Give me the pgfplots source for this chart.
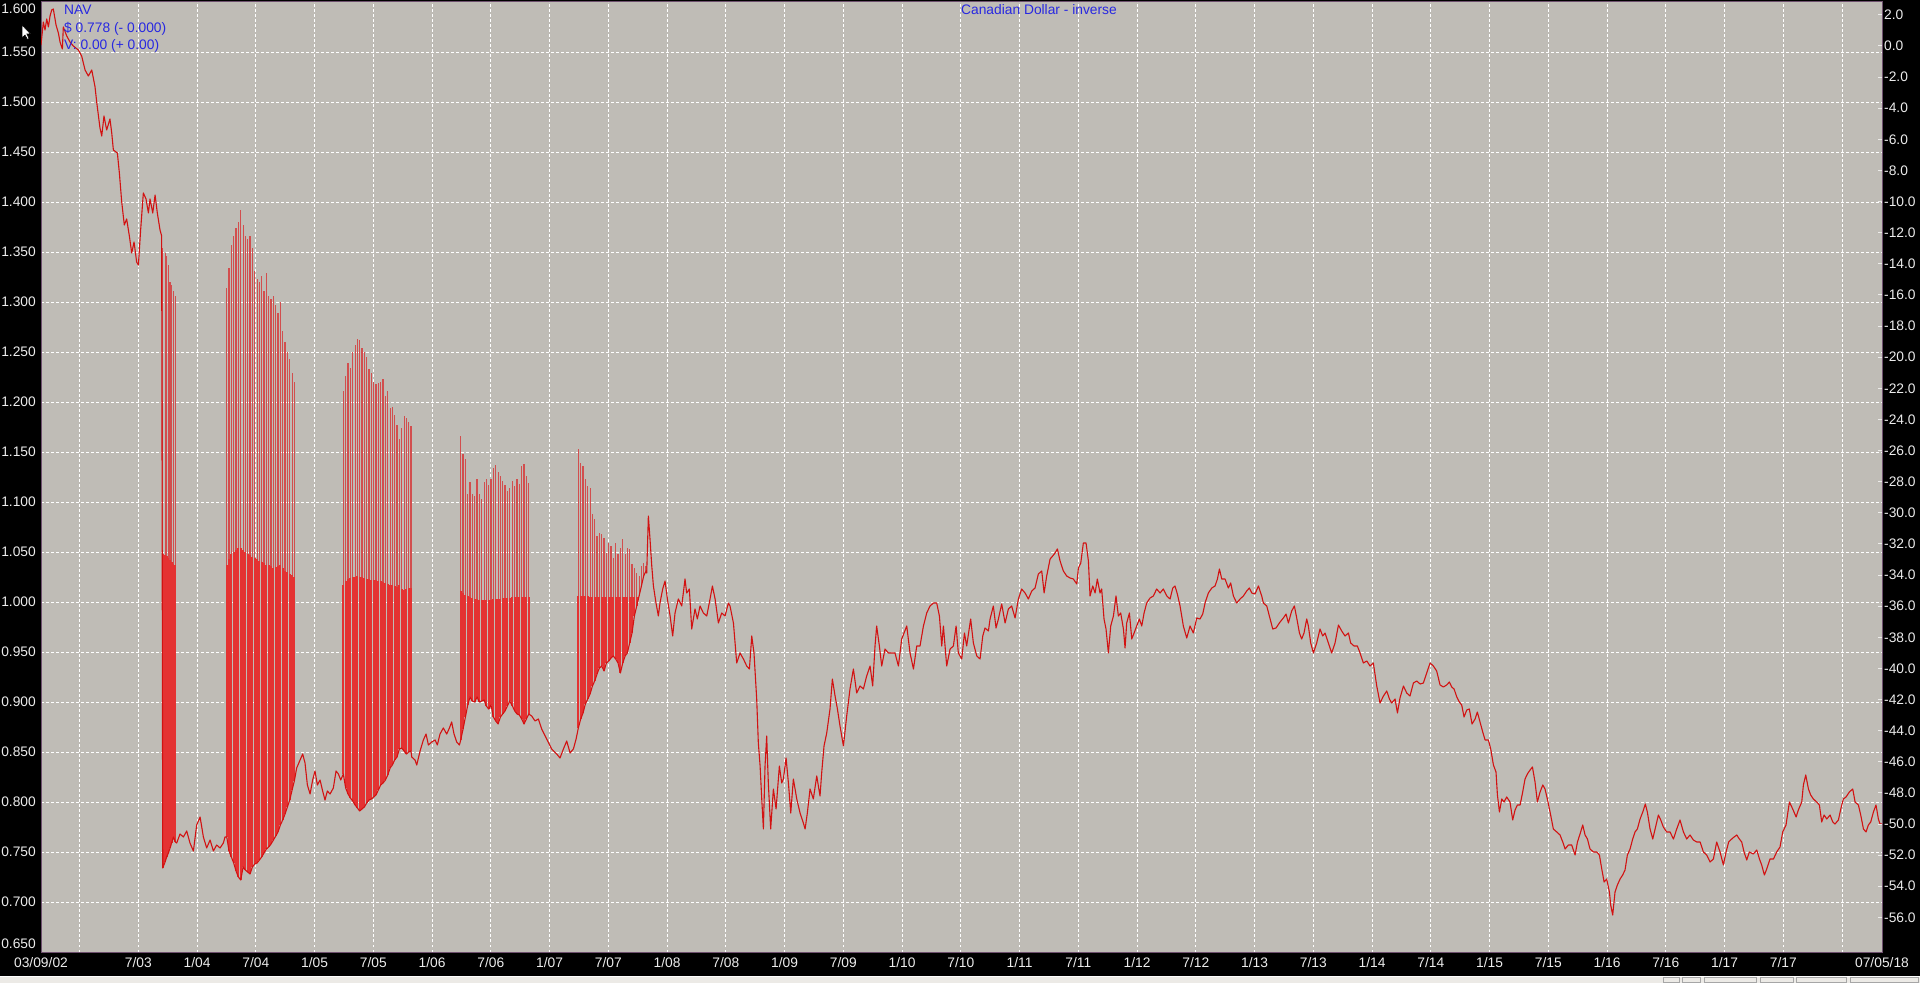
\documentclass[border=0pt]{standalone}
\usepackage{fontspec}
\setmainfont{Liberation Sans}
\usepackage{pgfplots}
\usepackage{pgfplotstable}
\pgfplotsset{compat=1.18}

\definecolor{plotbg}{RGB}{191,188,182}
\definecolor{linered}{RGB}{210,18,18}
\definecolor{barred}{RGB}{210,78,78}
\definecolor{fillred}{RGB}{228,50,50}
\definecolor{bluetxt}{RGB}{40,40,225}
\definecolor{bordercol}{RGB}{110,80,110}
\definecolor{labtxt}{RGB}{236,236,236}
\definecolor{statusgray}{RGB}{236,234,230}
\newcommand\lab{\fontsize{13.8pt}{16pt}\selectfont}

\pgfplotstableread{
x y
2002.672 1.557
2002.692 1.580
2002.706 1.572
2002.721 1.583
2002.735 1.575
2002.749 1.586
2002.763 1.592
2002.777 1.593
2002.800 1.577
2002.820 1.569
2002.834 1.560
2002.854 1.553
2002.862 1.575
2002.891 1.566
2002.919 1.560
2002.947 1.556
2002.990 1.552
2003.018 1.546
2003.047 1.532
2003.075 1.526
2003.104 1.532
2003.132 1.515
2003.146 1.500
2003.174 1.474
2003.189 1.466
2003.208 1.486
2003.231 1.472
2003.259 1.483
2003.274 1.469
2003.288 1.452
2003.322 1.449
2003.339 1.429
2003.359 1.400
2003.381 1.377
2003.401 1.383
2003.424 1.366
2003.444 1.349
2003.464 1.360
2003.486 1.340
2003.501 1.337
2003.520 1.372
2003.543 1.409
2003.566 1.403
2003.586 1.389
2003.600 1.403
2003.623 1.389
2003.643 1.407
2003.662 1.389
2003.685 1.372
2003.699 1.366
2003.708 0.734
2003.728 0.740
2003.742 0.745
2003.756 0.749
2003.770 0.754
2003.784 0.759
2003.799 0.765
2003.816 0.760
2003.827 0.759
2003.855 0.768
2003.884 0.765
2003.912 0.771
2003.940 0.759
2003.969 0.751
2003.997 0.777
2004.026 0.785
2004.054 0.765
2004.082 0.754
2004.111 0.762
2004.139 0.751
2004.167 0.757
2004.196 0.754
2004.224 0.759
2004.238 0.765
2004.253 0.765
2004.272 0.751
2004.292 0.745
2004.312 0.739
2004.332 0.731
2004.352 0.725
2004.372 0.722
2004.392 0.735
2004.411 0.732
2004.431 0.730
2004.451 0.728
2004.471 0.735
2004.491 0.738
2004.511 0.739
2004.531 0.742
2004.550 0.745
2004.570 0.749
2004.590 0.753
2004.610 0.755
2004.630 0.758
2004.650 0.762
2004.670 0.766
2004.689 0.770
2004.709 0.777
2004.729 0.782
2004.749 0.788
2004.769 0.795
2004.789 0.802
2004.809 0.812
2004.828 0.821
2004.848 0.834
2004.877 0.842
2004.899 0.848
2004.919 0.839
2004.939 0.817
2004.962 0.808
2004.984 0.822
2005.004 0.831
2005.024 0.817
2005.047 0.822
2005.069 0.811
2005.089 0.802
2005.109 0.811
2005.132 0.808
2005.160 0.814
2005.183 0.831
2005.203 0.828
2005.223 0.822
2005.245 0.828
2005.265 0.814
2005.285 0.808
2005.305 0.804
2005.325 0.801
2005.345 0.797
2005.365 0.794
2005.384 0.791
2005.404 0.793
2005.424 0.795
2005.444 0.799
2005.464 0.802
2005.484 0.803
2005.504 0.805
2005.523 0.807
2005.543 0.812
2005.563 0.817
2005.583 0.819
2005.603 0.822
2005.623 0.827
2005.643 0.834
2005.662 0.837
2005.682 0.842
2005.702 0.845
2005.722 0.853
2005.742 0.854
2005.762 0.851
2005.782 0.848
2005.801 0.850
2005.821 0.851
2005.827 0.845
2005.855 0.842
2005.870 0.837
2005.898 0.851
2005.926 0.862
2005.949 0.868
2005.969 0.857
2005.997 0.860
2006.026 0.862
2006.045 0.857
2006.068 0.868
2006.096 0.874
2006.125 0.868
2006.148 0.874
2006.167 0.880
2006.187 0.868
2006.210 0.860
2006.233 0.857
2006.244 0.862
2006.264 0.873
2006.284 0.885
2006.304 0.897
2006.323 0.905
2006.343 0.901
2006.363 0.900
2006.383 0.905
2006.403 0.900
2006.423 0.901
2006.443 0.902
2006.462 0.896
2006.482 0.893
2006.502 0.897
2006.522 0.885
2006.542 0.881
2006.562 0.878
2006.582 0.885
2006.601 0.888
2006.621 0.891
2006.641 0.896
2006.661 0.901
2006.684 0.896
2006.704 0.891
2006.723 0.888
2006.743 0.887
2006.763 0.883
2006.783 0.878
2006.803 0.883
2006.823 0.888
2006.848 0.886
2006.877 0.881
2006.905 0.883
2006.933 0.873
2006.976 0.863
2007.018 0.853
2007.061 0.848
2007.089 0.844
2007.118 0.853
2007.146 0.861
2007.175 0.849
2007.203 0.853
2007.226 0.863
2007.245 0.874
2007.265 0.883
2007.285 0.889
2007.305 0.898
2007.325 0.903
2007.345 0.908
2007.365 0.916
2007.384 0.921
2007.404 0.928
2007.424 0.934
2007.444 0.936
2007.464 0.931
2007.484 0.939
2007.504 0.941
2007.523 0.944
2007.543 0.946
2007.563 0.943
2007.583 0.939
2007.603 0.929
2007.623 0.939
2007.643 0.946
2007.662 0.949
2007.682 0.959
2007.702 0.969
2007.722 0.986
2007.742 0.996
2007.762 1.006
2007.782 1.016
2007.801 1.026
2007.821 1.031
2007.827 1.029
2007.841 1.086
2007.855 1.063
2007.870 1.036
2007.884 1.016
2007.906 0.999
2007.926 0.986
2007.940 0.999
2007.963 1.013
2007.983 1.021
2008.003 1.003
2008.026 0.986
2008.048 0.966
2008.068 0.989
2008.096 1.003
2008.125 0.996
2008.153 1.023
2008.167 1.009
2008.190 1.013
2008.210 0.973
2008.238 0.993
2008.258 0.983
2008.281 0.996
2008.309 0.989
2008.338 0.986
2008.366 1.003
2008.386 1.016
2008.409 1.003
2008.437 0.979
2008.465 0.989
2008.494 0.986
2008.522 0.999
2008.536 0.996
2008.565 0.979
2008.593 0.939
2008.621 0.949
2008.650 0.943
2008.678 0.936
2008.701 0.933
2008.721 0.966
2008.740 0.949
2008.763 0.903
2008.777 0.859
2008.792 0.836
2008.806 0.803
2008.820 0.773
2008.834 0.836
2008.848 0.866
2008.862 0.819
2008.882 0.773
2008.905 0.813
2008.928 0.793
2008.956 0.836
2008.976 0.819
2008.990 0.823
2009.013 0.844
2009.033 0.819
2009.053 0.789
2009.075 0.823
2009.104 0.803
2009.132 0.789
2009.160 0.779
2009.175 0.773
2009.194 0.789
2009.217 0.813
2009.245 0.803
2009.274 0.826
2009.302 0.806
2009.316 0.829
2009.336 0.856
2009.359 0.869
2009.387 0.893
2009.407 0.923
2009.430 0.906
2009.450 0.893
2009.472 0.876
2009.501 0.856
2009.529 0.886
2009.557 0.913
2009.586 0.933
2009.614 0.909
2009.643 0.916
2009.671 0.913
2009.699 0.926
2009.728 0.936
2009.750 0.916
2009.770 0.956
2009.784 0.976
2009.807 0.956
2009.827 0.936
2009.855 0.953
2009.884 0.949
2009.912 0.949
2009.940 0.949
2009.969 0.936
2009.997 0.963
2010.017 0.969
2010.040 0.976
2010.068 0.949
2010.097 0.933
2010.125 0.956
2010.153 0.956
2010.182 0.976
2010.210 0.989
2010.238 0.996
2010.267 0.999
2010.295 0.999
2010.318 0.986
2010.338 0.956
2010.352 0.976
2010.380 0.936
2010.409 0.953
2010.437 0.956
2010.460 0.976
2010.479 0.949
2010.508 0.943
2010.531 0.969
2010.550 0.956
2010.584 0.983
2010.607 0.959
2010.636 0.946
2010.664 0.943
2010.687 0.966
2010.706 0.974
2010.735 0.971
2010.749 0.983
2010.777 0.996
2010.800 0.974
2010.820 0.983
2010.848 0.998
2010.877 0.979
2010.905 0.993
2010.933 0.996
2010.962 0.984
2010.990 1.003
2011.018 1.013
2011.047 1.009
2011.075 1.003
2011.104 1.011
2011.132 1.014
2011.160 1.028
2011.189 1.031
2011.209 1.009
2011.231 1.026
2011.260 1.043
2011.282 1.046
2011.302 1.049
2011.322 1.053
2011.345 1.041
2011.373 1.031
2011.401 1.026
2011.430 1.024
2011.458 1.023
2011.487 1.018
2011.501 1.034
2011.521 1.039
2011.543 1.059
2011.566 1.059
2011.586 1.041
2011.600 1.006
2011.623 1.016
2011.643 1.009
2011.662 1.023
2011.685 1.009
2011.699 1.013
2011.719 0.983
2011.736 0.973
2011.756 0.949
2011.776 0.976
2011.799 0.986
2011.821 1.006
2011.841 0.986
2011.861 0.989
2011.884 0.973
2011.898 0.954
2011.912 0.979
2011.935 0.989
2011.955 0.963
2011.975 0.969
2011.997 0.976
2012.020 0.983
2012.040 0.976
2012.060 0.989
2012.082 0.999
2012.111 1.004
2012.139 1.006
2012.167 1.013
2012.196 1.009
2012.224 1.013
2012.253 1.006
2012.281 1.003
2012.304 1.014
2012.323 1.016
2012.343 1.008
2012.366 0.996
2012.394 0.976
2012.423 0.964
2012.451 0.976
2012.479 0.969
2012.508 0.984
2012.536 0.983
2012.559 0.988
2012.579 0.999
2012.607 1.009
2012.636 1.014
2012.664 1.016
2012.684 1.023
2012.701 1.033
2012.721 1.023
2012.749 1.023
2012.777 1.014
2012.797 1.019
2012.820 1.006
2012.848 0.999
2012.877 1.003
2012.905 1.006
2012.933 1.011
2012.956 1.014
2012.976 1.009
2013.004 1.008
2013.033 1.016
2013.061 1.006
2013.075 0.999
2013.104 0.996
2013.126 0.986
2013.155 0.973
2013.183 0.974
2013.211 0.979
2013.245 0.984
2013.268 0.988
2013.288 0.979
2013.316 0.991
2013.339 0.996
2013.359 0.984
2013.382 0.969
2013.401 0.963
2013.421 0.969
2013.444 0.983
2013.458 0.976
2013.478 0.959
2013.501 0.949
2013.529 0.959
2013.557 0.973
2013.580 0.966
2013.600 0.969
2013.628 0.959
2013.657 0.949
2013.685 0.959
2013.714 0.977
2013.742 0.971
2013.770 0.966
2013.799 0.969
2013.818 0.959
2013.847 0.956
2013.875 0.956
2013.898 0.949
2013.926 0.939
2013.955 0.941
2013.983 0.936
2014.011 0.939
2014.040 0.916
2014.068 0.899
2014.097 0.906
2014.125 0.911
2014.148 0.903
2014.167 0.899
2014.196 0.903
2014.216 0.889
2014.238 0.904
2014.267 0.916
2014.295 0.909
2014.323 0.906
2014.352 0.919
2014.380 0.921
2014.409 0.918
2014.437 0.919
2014.465 0.929
2014.494 0.939
2014.522 0.936
2014.550 0.931
2014.579 0.917
2014.607 0.915
2014.635 0.917
2014.658 0.920
2014.678 0.915
2014.698 0.913
2014.721 0.905
2014.743 0.900
2014.763 0.897
2014.783 0.885
2014.806 0.892
2014.828 0.893
2014.851 0.878
2014.877 0.883
2014.896 0.890
2014.919 0.880
2014.942 0.870
2014.962 0.862
2014.990 0.862
2015.010 0.853
2015.033 0.837
2015.055 0.830
2015.067 0.807
2015.084 0.790
2015.104 0.803
2015.123 0.800
2015.146 0.805
2015.174 0.800
2015.197 0.782
2015.217 0.792
2015.237 0.797
2015.260 0.797
2015.282 0.810
2015.302 0.823
2015.322 0.828
2015.345 0.832
2015.365 0.835
2015.387 0.820
2015.407 0.800
2015.430 0.810
2015.453 0.817
2015.472 0.813
2015.492 0.803
2015.515 0.790
2015.543 0.773
2015.572 0.770
2015.600 0.767
2015.623 0.760
2015.643 0.753
2015.671 0.757
2015.699 0.757
2015.728 0.747
2015.748 0.760
2015.770 0.768
2015.793 0.777
2015.813 0.767
2015.833 0.763
2015.855 0.753
2015.884 0.750
2015.912 0.750
2015.935 0.747
2015.955 0.733
2015.975 0.720
2015.997 0.723
2016.020 0.710
2016.031 0.697
2016.048 0.687
2016.068 0.710
2016.088 0.717
2016.111 0.723
2016.133 0.727
2016.153 0.732
2016.173 0.747
2016.196 0.753
2016.218 0.763
2016.238 0.770
2016.258 0.773
2016.281 0.783
2016.304 0.790
2016.326 0.798
2016.343 0.790
2016.366 0.773
2016.389 0.763
2016.409 0.773
2016.437 0.787
2016.457 0.782
2016.479 0.775
2016.508 0.770
2016.536 0.770
2016.565 0.763
2016.593 0.773
2016.621 0.782
2016.650 0.770
2016.678 0.763
2016.706 0.767
2016.735 0.762
2016.763 0.760
2016.792 0.760
2016.820 0.750
2016.848 0.747
2016.877 0.740
2016.905 0.743
2016.933 0.760
2016.962 0.750
2016.990 0.737
2017.013 0.750
2017.035 0.760
2017.061 0.763
2017.081 0.765
2017.104 0.767
2017.126 0.763
2017.146 0.760
2017.166 0.750
2017.189 0.742
2017.211 0.750
2017.245 0.748
2017.274 0.752
2017.297 0.743
2017.316 0.737
2017.339 0.727
2017.359 0.733
2017.387 0.743
2017.416 0.743
2017.444 0.750
2017.472 0.755
2017.495 0.770
2017.523 0.777
2017.552 0.800
2017.580 0.793
2017.609 0.785
2017.628 0.792
2017.657 0.800
2017.671 0.817
2017.691 0.827
2017.714 0.813
2017.733 0.807
2017.756 0.803
2017.784 0.800
2017.807 0.797
2017.827 0.780
2017.847 0.787
2017.870 0.783
2017.898 0.787
2017.921 0.780
2017.940 0.778
2017.969 0.782
2017.989 0.793
2018.011 0.803
2018.034 0.805
2018.062 0.810
2018.091 0.813
2018.111 0.800
2018.139 0.797
2018.159 0.787
2018.182 0.773
2018.204 0.770
2018.224 0.777
2018.244 0.780
2018.267 0.790
2018.289 0.797
2018.309 0.783
2018.323 0.778
2018.340 0.778
}\maindata

% glitch regions: lo = plotted value, mid = dense band top, hi = inverse spike top
\pgfplotstableread{
x lo mid hi
2003.708 0.734 1.048 1.354
2003.728 0.740 1.047 1.349
2003.742 0.745 1.046 1.346
2003.756 0.749 1.044 1.337
2003.770 0.754 1.042 1.320
2003.784 0.759 1.040 1.317
2003.799 0.765 1.038 1.311
2003.816 0.760 1.037 1.306
}\rone

\pgfplotstableread{
x lo mid hi
2004.253 0.765 1.037 1.314
2004.272 0.751 1.043 1.334
2004.292 0.745 1.048 1.357
2004.312 0.739 1.050 1.366
2004.332 0.731 1.052 1.374
2004.352 0.725 1.054 1.380
2004.372 0.722 1.054 1.392
2004.392 0.735 1.052 1.377
2004.411 0.732 1.050 1.366
2004.431 0.730 1.048 1.363
2004.451 0.728 1.047 1.366
2004.471 0.735 1.045 1.354
2004.491 0.738 1.044 1.331
2004.511 0.739 1.043 1.323
2004.531 0.742 1.041 1.320
2004.550 0.745 1.040 1.326
2004.570 0.749 1.039 1.311
2004.590 0.753 1.037 1.329
2004.610 0.755 1.037 1.306
2004.630 0.758 1.036 1.303
2004.650 0.762 1.034 1.306
2004.670 0.766 1.035 1.297
2004.689 0.770 1.036 1.289
2004.709 0.777 1.037 1.300
2004.729 0.782 1.034 1.271
2004.749 0.788 1.031 1.260
2004.769 0.795 1.030 1.250
2004.789 0.802 1.028 1.243
2004.809 0.812 1.027 1.229
2004.828 0.821 1.025 1.220
}\rtwo

\pgfplotstableread{
x lo mid hi
2005.245 0.828 1.017 1.211
2005.265 0.814 1.021 1.226
2005.285 0.808 1.023 1.239
2005.305 0.804 1.024 1.234
2005.325 0.801 1.025 1.250
2005.345 0.797 1.025 1.257
2005.365 0.794 1.026 1.263
2005.384 0.791 1.025 1.262
2005.404 0.793 1.025 1.254
2005.424 0.795 1.024 1.250
2005.444 0.799 1.023 1.245
2005.464 0.802 1.023 1.233
2005.484 0.803 1.022 1.229
2005.504 0.805 1.022 1.220
2005.523 0.807 1.022 1.218
2005.543 0.812 1.021 1.219
2005.563 0.817 1.021 1.220
2005.583 0.819 1.020 1.223
2005.603 0.822 1.019 1.206
2005.623 0.827 1.018 1.211
2005.643 0.834 1.017 1.194
2005.662 0.837 1.017 1.195
2005.682 0.842 1.016 1.187
2005.702 0.845 1.015 1.177
2005.722 0.853 1.017 1.163
2005.742 0.854 1.013 1.174
2005.762 0.851 1.012 1.186
2005.782 0.848 1.013 1.184
2005.801 0.850 1.014 1.180
2005.821 0.851 1.014 1.176
}\rthree

\pgfplotstableread{
x lo mid hi
2006.244 0.862 1.011 1.166
2006.264 0.873 1.009 1.148
2006.284 0.885 1.007 1.143
2006.304 0.897 1.006 1.108
2006.323 0.905 1.005 1.120
2006.343 0.901 1.004 1.108
2006.363 0.900 1.003 1.106
2006.383 0.905 1.003 1.123
2006.403 0.900 1.002 1.108
2006.423 0.901 1.002 1.103
2006.443 0.902 1.002 1.120
2006.462 0.896 1.002 1.123
2006.482 0.893 1.002 1.117
2006.502 0.897 1.002 1.123
2006.522 0.885 1.003 1.134
2006.542 0.881 1.003 1.137
2006.562 0.878 1.003 1.130
2006.582 0.885 1.003 1.126
2006.601 0.888 1.004 1.121
2006.621 0.891 1.004 1.117
2006.641 0.896 1.004 1.111
2006.661 0.901 1.004 1.114
2006.684 0.896 1.005 1.121
2006.704 0.891 1.005 1.116
2006.723 0.888 1.005 1.123
2006.743 0.887 1.005 1.118
2006.763 0.883 1.005 1.136
2006.783 0.878 1.005 1.138
2006.803 0.883 1.005 1.126
2006.823 0.888 1.005 1.119
}\rfour

\pgfplotstableread{
x lo mid hi
2007.245 0.874 1.006 1.153
2007.265 0.883 1.006 1.139
2007.285 0.889 1.006 1.136
2007.305 0.898 1.006 1.123
2007.325 0.903 1.006 1.116
2007.345 0.908 1.005 1.114
2007.365 0.916 1.005 1.088
2007.384 0.921 1.005 1.083
2007.404 0.928 1.005 1.066
2007.424 0.934 1.005 1.069
2007.444 0.936 1.005 1.068
2007.464 0.931 1.005 1.064
2007.484 0.939 1.005 1.049
2007.504 0.941 1.005 1.059
2007.523 0.944 1.005 1.056
2007.543 0.946 1.005 1.044
2007.563 0.943 1.005 1.059
2007.583 0.939 1.005 1.048
2007.603 0.929 1.005 1.054
2007.623 0.939 1.005 1.063
2007.643 0.946 1.005 1.048
2007.662 0.949 1.005 1.054
2007.682 0.959 1.005 1.053
2007.702 0.969 1.005 1.038
2007.722 0.986 1.005 1.034
2007.742 0.996 1.005 1.029
2007.762 1.006 1.006 1.026
2007.782 1.016 1.016 1.036
2007.801 1.026 1.026 1.039
2007.821 1.031 1.031 1.036
}\rfive

\pgfplotsset{
  band/.style={draw=none, forget plot,
    error bars/.cd, y dir=plus, y explicit, error mark=none,
    error bar style={draw=fillred, line width=1.95pt}},
  spike/.style={draw=none, forget plot,
    error bars/.cd, y dir=plus, y explicit, error mark=none,
    error bar style={draw=barred, line width=1.15pt}},
}

\begin{document}
\begin{tikzpicture}
\fill[black] (0,0) rectangle (1920pt,983pt);
% status bar
\fill[statusgray] (0,0) rectangle (1920pt,7pt);
\draw[white, line width=0.8pt] (0,7pt) -- (1920pt,7pt);
\foreach \a/\b in {1663/1679,1682/1700,1704/1756,1760/1793,1796/1846,1850/1918}
  \draw[gray!70, line width=0.6pt] (\a pt,0.5pt) rectangle (\b pt,6pt);

\begin{axis}[
  at={(41pt,31pt)}, anchor=south west, scale only axis,
  width=1841pt, height=950pt,
  xmin=2002.672, xmax=2018.34, ymin=0.65, ymax=1.6,
  axis background/.style={fill=plotbg},
  axis line style={draw=bordercol, line width=1pt},
  grid=major,
  major grid style={draw=white, dash pattern=on 2.5pt off 2.5pt, line width=0.9pt},
  major tick length=0pt,
  scaled x ticks=false, scaled y ticks=false,
  xtick={2003,2003.5,2004,2004.5,2005,2005.5,2006,2006.5,2007,2007.5,2008,2008.5,2009,2009.5,2010,2010.5,2011,2011.5,2012,2012.5,2013,2013.5,2014,2014.5,2015,2015.5,2016,2016.5,2017,2017.5,2018},
  xticklabels={{},7/03,1/04,7/04,1/05,7/05,1/06,7/06,1/07,7/07,1/08,7/08,1/09,7/09,1/10,7/10,1/11,7/11,1/12,7/12,1/13,7/13,1/14,7/14,1/15,7/15,1/16,7/16,1/17,7/17,{}},
  extra x ticks={2002.672,2018.34},
  extra x tick labels={03/09/02,07/05/18},
  extra x tick style={grid=none},
  ytick={0.70,0.75,0.80,0.85,0.90,0.95,1.00,1.05,1.10,1.15,1.20,1.25,1.30,1.35,1.40,1.45,1.50,1.55},
  xticklabel style={anchor=north, inner sep=0pt, yshift=-5pt, font=\lab, text=labtxt},
  yticklabel style={anchor=east, inner sep=0pt, xshift=-5pt, font=\lab, text=labtxt},
  y tick label style={/pgf/number format/fixed, /pgf/number format/fixed zerofill,
    /pgf/number format/precision=3, /pgf/number format/assume math mode=true},
]
% inverse spikes (lo to hi), then the dense band (lo to mid) of the glitch periods
\addplot[spike] table[x=x, y=lo, y error plus expr=\thisrow{hi}-\thisrow{lo}]{\rone};
\addplot[band] table[x=x, y=lo, y error plus expr=\thisrow{mid}-\thisrow{lo}]{\rone};
\addplot[spike] table[x=x, y=lo, y error plus expr=\thisrow{hi}-\thisrow{lo}]{\rtwo};
\addplot[band] table[x=x, y=lo, y error plus expr=\thisrow{mid}-\thisrow{lo}]{\rtwo};
\addplot[spike] table[x=x, y=lo, y error plus expr=\thisrow{hi}-\thisrow{lo}]{\rthree};
\addplot[band] table[x=x, y=lo, y error plus expr=\thisrow{mid}-\thisrow{lo}]{\rthree};
\addplot[spike] table[x=x, y=lo, y error plus expr=\thisrow{hi}-\thisrow{lo}]{\rfour};
\addplot[band] table[x=x, y=lo, y error plus expr=\thisrow{mid}-\thisrow{lo}]{\rfour};
\addplot[spike] table[x=x, y=lo, y error plus expr=\thisrow{hi}-\thisrow{lo}]{\rfive};
\addplot[band] table[x=x, y=lo, y error plus expr=\thisrow{mid}-\thisrow{lo}]{\rfive};

% NAV line
\addplot[linered, line width=1.1pt, line join=round] table[x=x,y=y]{\maindata};
\end{axis}

% right-hand percentage scale (change against 1.556)
\begin{axis}[
  at={(41pt,31pt)}, anchor=south west, scale only axis,
  width=1841pt, height=950pt,
  xmin=2002.672, xmax=2018.34,
  ymin=-58.226, ymax=2.828,
  hide x axis, axis y line*=right,
  axis line style={draw=none},
  ytick={-56,-54,-52,-50,-48,-46,-44,-42,-40,-38,-36,-34,-32,-30,-28,-26,-24,-22,-20,-18,-16,-14,-12,-10,-8,-6,-4,-2,0,2},
  scaled y ticks=false,
  tick align=inside, major tick length=4pt,
  ytick style={draw=white!70!plotbg, line width=1pt},
  yticklabel style={anchor=west, inner sep=0pt, xshift=2pt, font=\lab, text=labtxt},
  y tick label style={/pgf/number format/fixed, /pgf/number format/fixed zerofill,
    /pgf/number format/precision=1, /pgf/number format/assume math mode=true},
]
\addplot[draw=none, forget plot] table[x=x, y expr=(\thisrow{y}/1.556-1)*100]{\maindata};
\end{axis}

% extreme left labels, kept inside the picture
\node[anchor=east, inner sep=0pt, font=\lab, text=labtxt] at (36pt,974pt) {1.600};
\node[anchor=east, inner sep=0pt, font=\lab, text=labtxt] at (36pt,39.5pt) {0.650};

% title and info block
\node[anchor=base, inner sep=0pt, font=\lab, text=bluetxt] at (1039pt,968pt) {Canadian Dollar - inverse};
\node[anchor=base west, inner sep=0pt, font=\lab, text=bluetxt] at (64pt,968pt) {NAV};
\node[anchor=base west, inner sep=0pt, font=\lab, text=bluetxt] at (64pt,950.7pt) {\$ 0.778 (- 0.000)};
\node[anchor=base west, inner sep=0pt, font=\lab, text=bluetxt] at (64pt,933pt) {V: 0.00 (+ 0.00)};

% mouse pointer
\filldraw[fill=white, draw=black, line width=0.5pt]
  (22pt,958pt) -- (22pt,945pt) -- (25pt,948pt) -- (27.5pt,943.5pt) -- (29pt,944.5pt)
  -- (26.8pt,949pt) -- (30.5pt,949pt) -- cycle;

\pgfresetboundingbox
\useasboundingbox (0,0) rectangle (1920pt,983pt);
\end{tikzpicture}
\end{document}
